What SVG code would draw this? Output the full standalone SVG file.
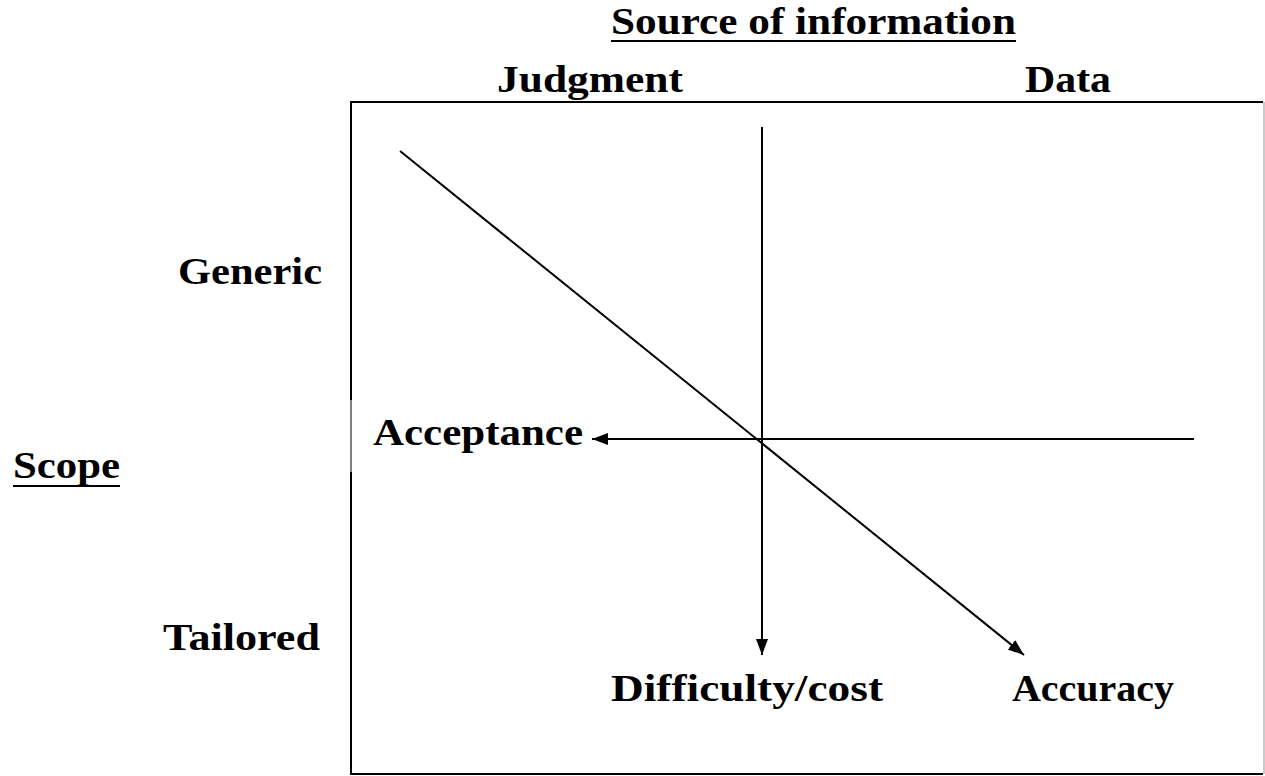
<svg xmlns="http://www.w3.org/2000/svg" width="1265" height="776" viewBox="0 0 1265 776">
  <style>
    .lbl { font-family: "Liberation Serif", "DejaVu Serif", serif; font-weight: bold; font-size: 37px; fill: #000; }
    .frame { fill: none; stroke: #000; stroke-width: 2; }
    .edge { fill: none; stroke: #000; stroke-width: 2; }
    .uline { stroke: #000; stroke-width: 2; }
  </style>
  <defs>
    <marker id="arrow" viewBox="0 0 16 12" refX="16" refY="6" markerWidth="16" markerHeight="12" markerUnits="userSpaceOnUse" orient="auto">
      <path d="M0,0 L16,6 L0,12 Z" fill="#000"/>
    </marker>
  </defs>

  <rect width="1265" height="776" fill="#fff"/>

  <!-- outer frame; the left side is thinner beside the Acceptance label -->
  <g id="frame">
    <path class="frame" d="M351,400 V102 H1263 M1263,774 H351 V472"/>
    <line x1="1264" y1="102" x2="1264" y2="774" stroke="#b8b8b8" stroke-width="1.5"/>
    <line x1="351" y1="400" x2="351" y2="472" stroke="#000" stroke-width="1"/>
  </g>

  <!-- axis titles -->
  <g id="source-title">
    <text class="lbl" x="611" y="34" textLength="405" lengthAdjust="spacingAndGlyphs">Source of information</text>
    <line class="uline" x1="611" y1="41" x2="1016" y2="41"/>
  </g>
  <g id="scope-title">
    <text class="lbl" x="13" y="478" textLength="107" lengthAdjust="spacingAndGlyphs">Scope</text>
    <line class="uline" x1="13" y1="486" x2="120" y2="486"/>
  </g>

  <!-- column labels -->
  <g id="judgment"><text class="lbl" x="497" y="92" textLength="186" lengthAdjust="spacingAndGlyphs">Judgment</text></g>
  <g id="data"><text class="lbl" x="1025" y="92" textLength="86" lengthAdjust="spacingAndGlyphs">Data</text></g>

  <!-- row labels -->
  <g id="generic"><text class="lbl" x="178" y="284" textLength="144" lengthAdjust="spacingAndGlyphs">Generic</text></g>
  <g id="tailored"><text class="lbl" x="163" y="650" textLength="157" lengthAdjust="spacingAndGlyphs">Tailored</text></g>

  <!-- outcome labels -->
  <g id="acceptance"><text class="lbl" x="373" y="445" textLength="210" lengthAdjust="spacingAndGlyphs">Acceptance</text></g>
  <g id="difficulty"><text class="lbl" x="611" y="701" textLength="272" lengthAdjust="spacingAndGlyphs">Difficulty/cost</text></g>
  <g id="accuracy"><text class="lbl" x="1012" y="701" textLength="162" lengthAdjust="spacingAndGlyphs">Accuracy</text></g>

  <!-- connectors -->
  <g id="connectors">
    <line class="edge" x1="762" y1="127" x2="762" y2="655" marker-end="url(#arrow)"/>
    <line class="edge" x1="1194" y1="439" x2="592" y2="439" marker-end="url(#arrow)"/>
    <line class="edge" x1="400" y1="151" x2="1024" y2="655" marker-end="url(#arrow)"/>
  </g>
</svg>
